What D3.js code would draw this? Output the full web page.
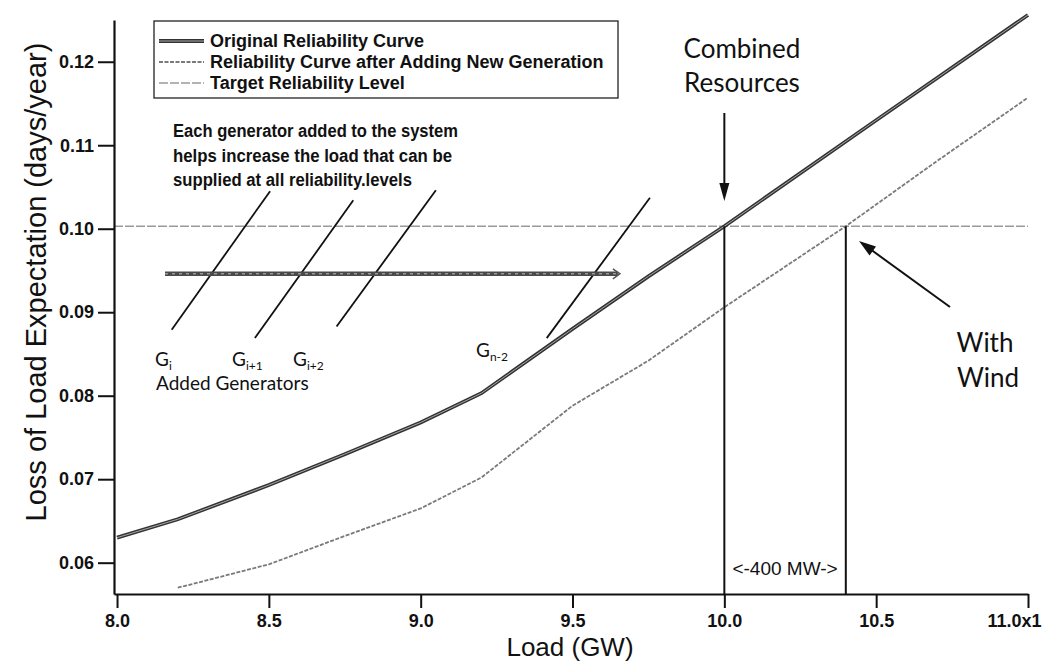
<!DOCTYPE html>
<html><head><meta charset="utf-8">
<script src="https://cdn.jsdelivr.net/npm/d3@7"></script>
<style>
html,body{margin:0;padding:0;background:#fff;}
svg{display:block;}
</style></head>
<body>
<svg id="chart" width="1050" height="662"></svg>
<script>
// ---- data ----
const loadOriginal = [8.0, 8.2, 8.5, 8.75, 9.0, 9.2, 9.5, 9.75, 10.0, 10.5, 11.0];
const loleOriginal = [0.0630, 0.0652, 0.0693, 0.0730, 0.0768, 0.0803, 0.0880, 0.0943, 0.1003, 0.1130, 0.1256];
const loadNewGen = [8.2, 8.5, 8.75, 9.0, 9.2, 9.5, 9.75, 10.0, 10.4, 10.7, 11.0];
const loleNewGen = [0.0570, 0.0598, 0.0632, 0.0665, 0.0702, 0.0788, 0.0842, 0.0906, 0.1003, 0.1081, 0.1157];
const targetLOLE = 0.1003;
const combinedLoad = 10.0;
const windLoad = 10.4;
const xTickValues = [8.0, 8.5, 9.0, 9.5, 10.0, 10.5, 11.0];
const xTickLabels = ["8.0", "8.5", "9.0", "9.5", "10.0", "10.5", "11.0x1"];
const yTickValues = [0.06, 0.07, 0.08, 0.09, 0.10, 0.11, 0.12];
const yTickLabels = ["0.06", "0.07", "0.08", "0.09", "0.10", "0.11", "0.12"];
const legendLabels = ["Original Reliability Curve", "Reliability Curve after Adding New Generation", "Target Reliability Level"];
// generator marker lines [x0, y0, x1, y1] in data units
const genLines = [[8.180, 0.0879, 8.504, 0.1045], [8.454, 0.0869, 8.778, 0.1034], [8.723, 0.0883, 9.050, 0.1046], [9.415, 0.0869, 9.755, 0.1037]];
const genNames = ["i", "i+1", "i+2", "n-2"];
const stepArrow = [8.158, 9.656, 0.0946];
const noteLines = ["Each generator added to the system", "helps increase the load that can be", "supplied at all reliability.levels"];

// ---- layout ----
const svg = d3.select("#chart");
const x = d3.scaleLinear().domain([7.99, 11.0]).range([114, 1028]);
const y = d3.scaleLinear().domain([0.05625, 0.125]).range([594, 20]);
const line = d3.line().x(d => x(d[0])).y(d => y(d[1]));

const tickFont = "'Liberation Sans', Arial, sans-serif";
const calFont = "Lato, 'Open Sans', sans-serif";

// target line
svg.append("line").attr("x1", x(7.99)).attr("x2", x(11.0)).attr("y1", y(targetLOLE)).attr("y2", y(targetLOLE))
  .attr("stroke", "#9a9a9a").attr("stroke-width", 1.5).attr("stroke-dasharray", "9,2");

// new gen curve
svg.append("path").datum(loadNewGen.map((d, i) => [d, loleNewGen[i]]))
  .attr("d", line).attr("fill", "none").attr("stroke", "#7a7a7a").attr("stroke-width", 1.8).attr("stroke-dasharray", "4,1.5");

// original curve
const origData = loadOriginal.map((d, i) => [d, loleOriginal[i]]);
svg.append("path").datum(origData).attr("d", line).attr("fill", "none").attr("stroke", "#333").attr("stroke-width", 3.8);
svg.append("path").datum(origData).attr("d", line).attr("fill", "none").attr("stroke", "#a8a8a8").attr("stroke-width", 1.0);

// vertical drop lines
[combinedLoad, windLoad].forEach(v => {
  svg.append("line").attr("x1", x(v)).attr("x2", x(v)).attr("y1", y(targetLOLE)).attr("y2", y(0.05625))
    .attr("stroke", "#111").attr("stroke-width", 2);
});

// generator lines
genLines.forEach(g => {
  svg.append("line").attr("x1", x(g[0])).attr("y1", y(g[1])).attr("x2", x(g[2])).attr("y2", y(g[3]))
    .attr("stroke", "#111").attr("stroke-width", 1.8);
});

// step arrow
const ay = y(stepArrow[2]);
svg.append("line").attr("x1", x(stepArrow[0])).attr("x2", x(stepArrow[1]) - 2).attr("y1", ay).attr("y2", ay)
  .attr("stroke", "#4a4a4a").attr("stroke-width", 4.5);
svg.append("line").attr("x1", x(stepArrow[0])).attr("x2", x(stepArrow[1]) - 2).attr("y1", ay).attr("y2", ay)
  .attr("stroke", "#bdbdbd").attr("stroke-width", 1).attr("stroke-dasharray", "3,4");
svg.append("path").attr("d", `M${x(stepArrow[1]) - 7},${ay - 5} L${x(stepArrow[1])},${ay} L${x(stepArrow[1]) - 7},${ay + 5}`)
  .attr("fill", "none").attr("stroke", "#555").attr("stroke-width", 1.5);

// axes
const xAxis = svg.append("g").attr("transform", `translate(0,${y(0.05625)})`)
  .call(d3.axisBottom(x).tickValues(xTickValues).tickSize(14).tickSizeOuter(0).tickPadding(6)
    .tickFormat((d, i) => xTickLabels[i]));
const yAxis = svg.append("g").attr("transform", `translate(${x(7.99)},0)`)
  .call(d3.axisLeft(y).tickValues(yTickValues).tickSize(16).tickSizeOuter(0).tickPadding(4)
    .tickFormat((d, i) => yTickLabels[i]));
[xAxis, yAxis].forEach(a => {
  a.select(".domain").attr("stroke", "#111").attr("stroke-width", 2.2);
  a.selectAll(".tick line").attr("stroke", "#111").attr("stroke-width", 2);
  a.selectAll(".tick text").attr("font-family", tickFont).attr("font-size", 18).attr("font-weight", "bold").attr("fill", "#111");
});
xAxis.selectAll(".tick text").filter((d, i) => i === xTickValues.length - 1).attr("text-anchor", "start").attr("x", -41);

// axis titles
svg.append("text").attr("x", 570).attr("y", 656).attr("text-anchor", "middle")
  .attr("font-family", tickFont).attr("font-size", 26).attr("fill", "#111").text("Load (GW)");
svg.append("text").attr("transform", "translate(46,282) rotate(-90)").attr("text-anchor", "middle")
  .attr("font-family", tickFont).attr("font-size", 29).attr("fill", "#111").text("Loss of Load Expectation (days/year)");

// legend
const lg = svg.append("g");
lg.append("rect").attr("x", 154).attr("y", 21).attr("width", 464).attr("height", 77)
  .attr("fill", "#fff").attr("stroke", "#222").attr("stroke-width", 1.3);
const legendY = [41, 62, 83];
legendLabels.forEach((t, i) => {
  const ly = legendY[i];
  if (i === 0) {
    lg.append("line").attr("x1", 159).attr("x2", 204).attr("y1", ly).attr("y2", ly).attr("stroke", "#333").attr("stroke-width", 3.8);
    lg.append("line").attr("x1", 159).attr("x2", 204).attr("y1", ly).attr("y2", ly).attr("stroke", "#a8a8a8").attr("stroke-width", 1.0);
  } else if (i === 1) {
    lg.append("line").attr("x1", 159).attr("x2", 204).attr("y1", ly).attr("y2", ly).attr("stroke", "#7a7a7a").attr("stroke-width", 1.8).attr("stroke-dasharray", "4,1.5");
  } else {
    lg.append("line").attr("x1", 159).attr("x2", 204).attr("y1", ly).attr("y2", ly).attr("stroke", "#9a9a9a").attr("stroke-width", 1.5).attr("stroke-dasharray", "9,2");
  }
  lg.append("text").attr("x", 210).attr("y", ly + 6).attr("font-family", tickFont).attr("font-size", 18)
    .attr("font-weight", "bold").attr("fill", "#111").text(t);
});

// note text
const noteY = [137, 162, 186];
const noteW = [285, 279, 239];
noteLines.forEach((t, i) => {
  svg.append("text").attr("x", 173).attr("y", noteY[i]).attr("font-family", tickFont).attr("font-size", 18)
    .attr("font-weight", "bold").attr("fill", "#111")
    .attr("textLength", noteW[i]).attr("lengthAdjust", "spacingAndGlyphs").text(t);
});

// generator labels
const genLabelPos = [[155, 366], [232, 366], [293, 366], [476, 357]];
genNames.forEach((n, i) => {
  const t = svg.append("text").attr("x", genLabelPos[i][0]).attr("y", genLabelPos[i][1])
    .attr("font-family", calFont).attr("font-size", 19).attr("fill", "#111");
  t.append("tspan").text("G");
  t.append("tspan").attr("font-size", 12).attr("dy", 4).text(n);
});
svg.append("text").attr("x", 156).attr("y", 390).attr("font-family", calFont).attr("font-size", 19)
  .attr("fill", "#111").text("Added Generators");

// Combined Resources annotation
svg.append("text").attr("x", 742).attr("y", 58).attr("text-anchor", "middle").attr("font-family", calFont)
  .attr("font-size", 26).attr("fill", "#111").text("Combined");
svg.append("text").attr("x", 742).attr("y", 92).attr("text-anchor", "middle").attr("font-family", calFont)
  .attr("font-size", 26).attr("fill", "#111").text("Resources");
const cx = x(combinedLoad);
svg.append("line").attr("x1", cx).attr("x2", cx).attr("y1", 113).attr("y2", 185).attr("stroke", "#111").attr("stroke-width", 2);
svg.append("path").attr("d", `M${cx - 5},183 L${cx + 5},183 L${cx},201 Z`).attr("fill", "#111");

// With Wind annotation
svg.append("text").attr("x", 985).attr("y", 352).attr("text-anchor", "middle").attr("font-family", calFont)
  .attr("font-size", 26).attr("fill", "#111").text("With");
svg.append("text").attr("x", 988).attr("y", 387).attr("text-anchor", "middle").attr("font-family", calFont)
  .attr("font-size", 26).attr("fill", "#111").text("Wind");
const wx0 = 950, wy0 = 307, wx1 = 859, wy1 = 241;
const ang = Math.atan2(wy1 - wy0, wx1 - wx0);
svg.append("line").attr("x1", wx0).attr("y1", wy0).attr("x2", wx1 - 12 * Math.cos(ang)).attr("y2", wy1 - 12 * Math.sin(ang))
  .attr("stroke", "#111").attr("stroke-width", 2);
const hl = 17, hw = 5.5;
const bx = wx1 - hl * Math.cos(ang), by = wy1 - hl * Math.sin(ang);
svg.append("path").attr("d", `M${wx1},${wy1} L${bx + hw * Math.sin(ang)},${by - hw * Math.cos(ang)} L${bx - hw * Math.sin(ang)},${by + hw * Math.cos(ang)} Z`)
  .attr("fill", "#111");

// 400 MW label
svg.append("text").attr("x", (x(combinedLoad) + x(windLoad)) / 2).attr("y", 575).attr("text-anchor", "middle")
  .attr("font-family", tickFont).attr("font-size", 19).attr("fill", "#111").text("<-400 MW->");
</script>
</body></html>
